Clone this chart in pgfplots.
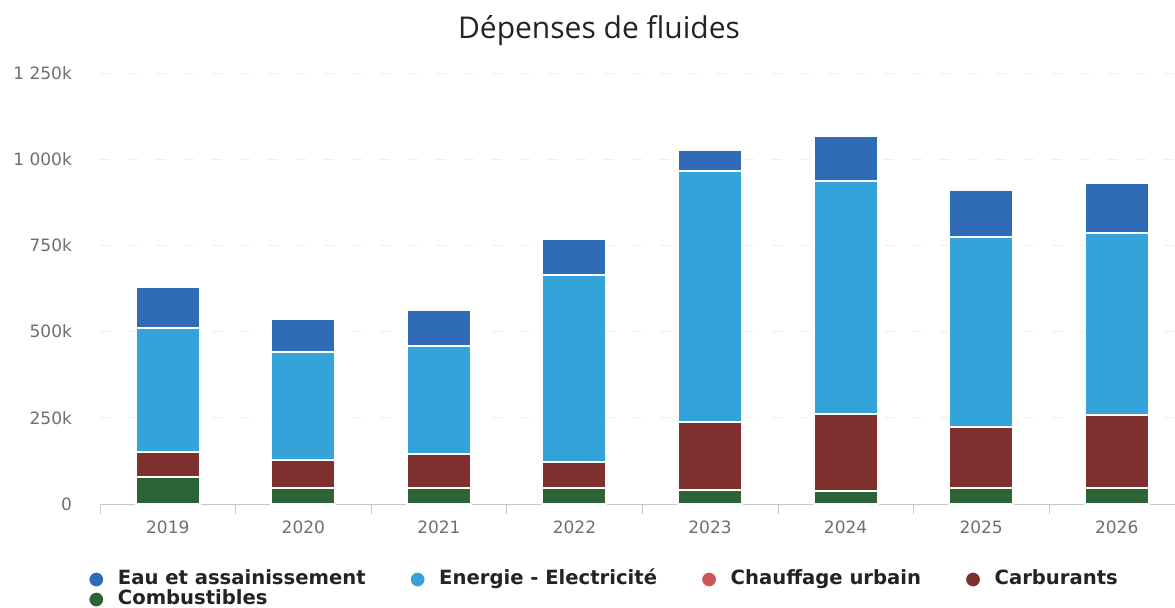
\documentclass[border=0pt]{standalone}
\usepackage{pgfplots}
\pgfplotsset{compat=1.18}
\usepackage{fontspec}
\setmainfont{Open Sans}
\newfontfamily\tickfont{DejaVu Sans}
\newfontfamily\legfont{DejaVu Sans}
\definecolor{cEau}{RGB}{47,108,181}
\definecolor{cElec}{RGB}{52,163,218}
\definecolor{cChauf}{RGB}{205,85,85}
\definecolor{cCarb}{RGB}{125,48,45}
\definecolor{cComb}{RGB}{44,100,56}
\definecolor{cTick}{RGB}{110,110,110}
\definecolor{cText}{RGB}{35,35,35}
\begin{document}
\begin{tikzpicture}
\useasboundingbox (0,0) rectangle (587.5pt,303.5pt);
\node[font=\fontsize{15}{18}\selectfont, text=cText] at (299.5pt,288pt) {Dépenses de fluides};
\begin{axis}[
  at={(50pt,51.5pt)}, anchor=south west,
  scale only axis, width=537.5pt, height=215.5pt,
  xmin=-0.5, xmax=7.43, ymin=0, ymax=1250,
  ybar stacked, bar width=32pt,
  axis lines=left,
  x axis line style={-, draw=black!22},
  y axis line style={draw=none},
  xtick={0,...,7},
  xticklabels={2019,2020,2021,2022,2023,2024,2025,2026},
  minor xtick={-0.5,0.5,...,6.5},
  major tick length=0pt,
  minor tick length=5pt,
  tick align=outside,
  minor x tick style={draw=black!22},
  ytick={0,250,500,750,1000,1250},
  yticklabels={0,250k,500k,750k,1 000k,1 250k},
  ytick style={draw=none},
  ymajorgrids,
  major grid style={draw=black!7, dash pattern=on 5pt off 9pt},
  /pgf/number format/assume math mode=true,
  tick label style={font=\tickfont\fontsize{8.5}{10}\selectfont, text=cTick},
  yticklabel style={xshift=-10.5pt},
  xticklabel style={yshift=-5pt},
  every axis plot/.append style={draw=white, line width=1pt},
  legend style={at={(axis description cs:-0.0118,-0.152)}, anchor=north west,
    draw=none, fill=none, inner sep=0pt, outer sep=0pt,
    font=\legfont\bfseries\fontsize{9.8}{10}\selectfont, text=cText,
    legend columns=4,
    nodes={inner ysep=0.5pt, text height=7pt, text depth=2pt},
    /tikz/every odd column/.append style={column sep=4.3pt},
    /tikz/every even column/.append style={column sep=19.5pt}},
  legend cell align=left,
  legend image code/.code={\fill[#1] (0pt,0pt) circle (4pt);},
]
\addplot[fill=cComb, forget plot] coordinates {(0,77) (1,47) (2,47) (3,47) (4,42) (5,38) (6,47) (7,47)};
\addplot[fill=cCarb, forget plot] coordinates {(0,74) (1,80) (2,97) (3,75) (4,196) (5,224) (6,176) (7,210)};
\addplot[fill=cElec, forget plot] coordinates {(0,360) (1,313) (2,313) (3,543) (4,727) (5,676) (6,552) (7,528)};
\addplot[fill=cEau, forget plot] coordinates {(0,117) (1,98) (2,106) (3,103) (4,63) (5,128) (6,135) (7,145)};
\addlegendimage{fill=cEau}
\addlegendentry{Eau et assainissement}
\addlegendimage{fill=cElec}
\addlegendentry{Energie - Electricité}
\addlegendimage{fill=cChauf}
\addlegendentry{Chauffage urbain}
\addlegendimage{fill=cCarb}
\addlegendentry{Carburants}
\addlegendimage{fill=cComb}
\addlegendentry{Combustibles}
\end{axis}
\end{tikzpicture}
\end{document}
